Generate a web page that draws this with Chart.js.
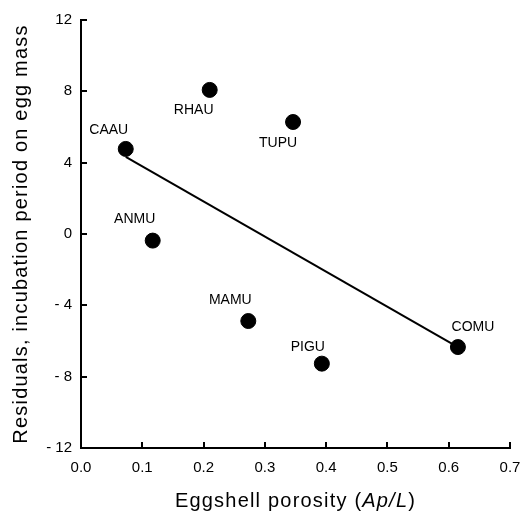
<!DOCTYPE html>
<html>
<head>
<meta charset="utf-8">
<script src="https://cdn.jsdelivr.net/npm/chart.js@4"></script>
<style>
  html, body { margin: 0; padding: 0; background: #fff; }
  canvas { display: block; }
</style>
</head>
<body>
<canvas id="chart" width="521" height="512"></canvas>
<script>
// species codes and their values
const species = ['CAAU', 'RHAU', 'TUPU', 'ANMU', 'MAMU', 'PIGU', 'COMU'];
const porosity = [0.073, 0.210, 0.346, 0.117, 0.273, 0.393, 0.615];
const residuals = [4.77, 8.08, 6.28, -0.37, -4.88, -7.27, -6.34];

// regression line end points
const fitX = [0.073, 0.615];
const fitY = [4.33, -6.35];

const xTicks = [0, 0.1, 0.2, 0.3, 0.4, 0.5, 0.6, 0.7];
const yTicks = [-12, -8, -4, 0, 4, 8, 12];

// where each label sits relative to its dot (px)
const labelOffsets = [[-17, -19], [-16, 20], [-15, 21], [-18, -21], [-18, -21], [-14, -17], [15, -20]];

const FONT = '"Liberation Sans", Arial, Helvetica, sans-serif';

const pointData = porosity.map((x, i) => ({ x: x, y: residuals[i] }));
const fitData = fitX.map((x, i) => ({ x: x, y: fitY[i] }));

// inward tick marks, point labels and axis titles
const extrasPlugin = {
  id: 'extras',
  afterDraw(chart) {
    const ctx = chart.ctx;
    const xs = chart.scales.x;
    const ys = chart.scales.y;
    const area = chart.chartArea;

    ctx.save();
    ctx.strokeStyle = '#000';
    ctx.lineWidth = 2;
    xTicks.forEach(v => {
      const px = Math.round(xs.getPixelForValue(v));
      ctx.beginPath();
      ctx.moveTo(px, area.bottom);
      ctx.lineTo(px, area.bottom - 6);
      ctx.stroke();
    });
    yTicks.forEach(v => {
      const py = Math.round(ys.getPixelForValue(v));
      ctx.beginPath();
      ctx.moveTo(area.left, py);
      ctx.lineTo(area.left + 6, py);
      ctx.stroke();
    });

    // species labels
    ctx.fillStyle = '#000';
    ctx.font = '14px ' + FONT;
    ctx.textAlign = 'center';
    ctx.textBaseline = 'middle';
    species.forEach((name, i) => {
      const px = xs.getPixelForValue(porosity[i]);
      const py = ys.getPixelForValue(residuals[i]);
      ctx.fillText(name, px + labelOffsets[i][0], py + labelOffsets[i][1]);
    });

    // y axis title
    ctx.font = '20px ' + FONT;
    ctx.letterSpacing = '1.2px';
    ctx.textBaseline = 'alphabetic';
    ctx.save();
    ctx.translate(27, (area.top + area.bottom) / 2);
    ctx.rotate(-Math.PI / 2);
    ctx.textAlign = 'center';
    ctx.fillText('Residuals, incubation period on egg mass', 0, 0);
    ctx.restore();

    // x axis title with italic Ap/L
    const parts = [
      ['Eggshell porosity (', '20px ' + FONT],
      ['Ap/L', 'italic 20px ' + FONT],
      [')', '20px ' + FONT]
    ];
    let total = 0;
    parts.forEach(p => { ctx.font = p[1]; total += ctx.measureText(p[0]).width; });
    let x = (area.left + area.right) / 2 - total / 2;
    ctx.textAlign = 'left';
    parts.forEach(p => {
      ctx.font = p[1];
      ctx.fillText(p[0], x, 507);
      x += ctx.measureText(p[0]).width;
    });
    ctx.restore();
  }
};

new Chart(document.getElementById('chart'), {
  data: {
    datasets: [
      {
        type: 'line',
        data: fitData,
        borderColor: '#000',
        borderWidth: 2,
        pointRadius: 0,
        fill: false,
        order: 2
      },
      {
        type: 'scatter',
        data: pointData,
        backgroundColor: '#000',
        borderColor: '#000',
        pointRadius: 7.5,
        pointHoverRadius: 7.5,
        order: 1
      }
    ]
  },
  options: {
    responsive: false,
    animation: false,
    events: [],
    layout: { padding: { left: 0, right: 11, top: 20, bottom: 0 } },
    plugins: {
      legend: { display: false },
      tooltip: { enabled: false }
    },
    scales: {
      x: {
        type: 'linear',
        min: 0,
        max: 0.7,
        afterFit(scale) {
          scale.height = 64;
          scale.paddingLeft = 0;
          scale.paddingRight = 0;
        },
        afterBuildTicks(scale) { scale.ticks = xTicks.map(v => ({ value: v })); },
        grid: { display: true, drawOnChartArea: false, drawTicks: false },
        border: { display: true, color: '#000', width: 2 },
        ticks: {
          padding: 11,
          maxRotation: 0,
          color: '#000',
          font: { family: FONT, size: 15 },
          callback: v => v.toFixed(1)
        }
      },
      y: {
        type: 'linear',
        min: -12,
        max: 12,
        afterFit(scale) {
          scale.width = 81;
          scale.paddingTop = 0;
          scale.paddingBottom = 0;
        },
        afterBuildTicks(scale) { scale.ticks = yTicks.map(v => ({ value: v })); },
        grid: { display: true, drawOnChartArea: false, drawTicks: false },
        border: { display: true, color: '#000', width: 2 },
        ticks: {
          padding: 9,
          color: '#000',
          font: { family: FONT, size: 15 },
          callback: v => v < 0 ? '- ' + Math.abs(v) : String(v)
        }
      }
    }
  },
  plugins: [extrasPlugin]
});
</script>
</body>
</html>
